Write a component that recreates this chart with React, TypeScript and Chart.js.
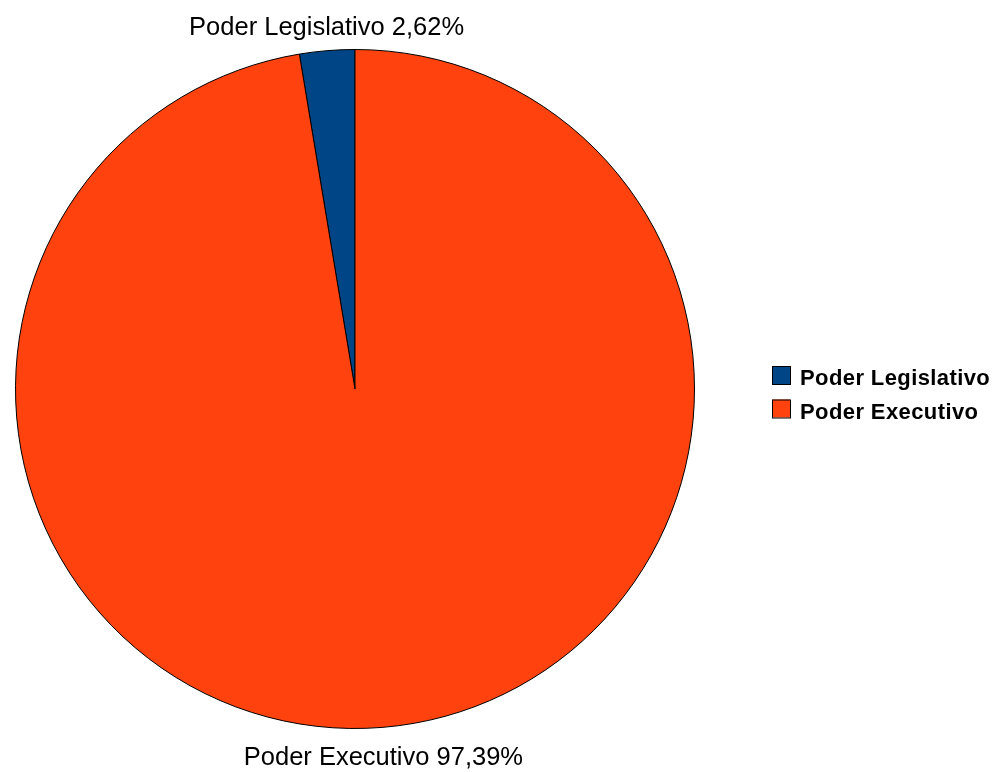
import React, { useEffect, useRef } from "react";
import { Chart, registerables } from "chart.js";

Chart.register(...registerables);

const categories = ["Poder Legislativo", "Poder Executivo"];
const values = [2.62, 97.39];
const valueLabels = ["2,62%", "97,39%"];
const colors = ["#004586", "#ff420e"];

const total = values.reduce((a, b) => a + b, 0);

const overlayPlugin = {
  id: "overlay",
  afterDraw(chart: any) {
    const ctx = chart.ctx;
    const meta = chart.getDatasetMeta(0);
    ctx.save();
    // slice labels
    ctx.font = "25.5px 'Liberation Sans', Arial, sans-serif";
    ctx.fillStyle = "#000";
    ctx.textAlign = "center";
    ctx.textBaseline = "alphabetic";
    meta.data.forEach((arc: any, i: number) => {
      const mid = (arc.startAngle + arc.endAngle) / 2;
      const r = arc.outerRadius + 6;
      const px = arc.x + r * Math.cos(mid);
      const py = arc.y + r * Math.sin(mid);
      const text = categories[i] + " " + valueLabels[i];
      const y = Math.sin(mid) < 0 ? py - 10 : py + 32;
      ctx.fillText(text, px, y);
    });
    // legend
    ctx.font = "bold 22px 'Liberation Sans', Arial, sans-serif";
    ctx.textAlign = "left";
    try {
      (ctx as any).letterSpacing = "0.4px";
    } catch (e) {}
    categories.forEach((c, i) => {
      const top = 366 + i * 33.5;
      ctx.fillStyle = colors[i];
      ctx.fillRect(772, top, 18, 18);
      ctx.strokeStyle = "#000";
      ctx.lineWidth = 1;
      ctx.strokeRect(772.5, top + 0.5, 18, 18);
      ctx.fillStyle = "#000";
      ctx.fillText(c, 800, top + 19);
    });
    ctx.restore();
  },
};

export default function App() {
  const ref = useRef<HTMLCanvasElement>(null);
  useEffect(() => {
    if (!ref.current) return;
    const chart = new Chart(ref.current, {
      type: "pie",
      data: {
        labels: categories,
        datasets: [
          {
            data: values,
            backgroundColor: colors,
            borderColor: "#000",
            borderWidth: 1,
          },
        ],
      },
      options: {
        responsive: false,
        animation: false,
        rotation: -(values[0] / total) * 360,
        radius: 339.5,
        layout: { padding: { left: 0, right: 291, top: 10, bottom: 4 } },
        plugins: {
          legend: { display: false },
          tooltip: { enabled: false },
        },
      },
      plugins: [overlayPlugin],
    });
    return () => chart.destroy();
  }, []);
  return (
    <div style={{ position: "absolute", left: 0, top: 0, width: 1001, height: 772, background: "#fff" }}>
      <canvas ref={ref} width={1001} height={772} style={{ width: 1001, height: 772, display: "block" }} />
    </div>
  );
}
